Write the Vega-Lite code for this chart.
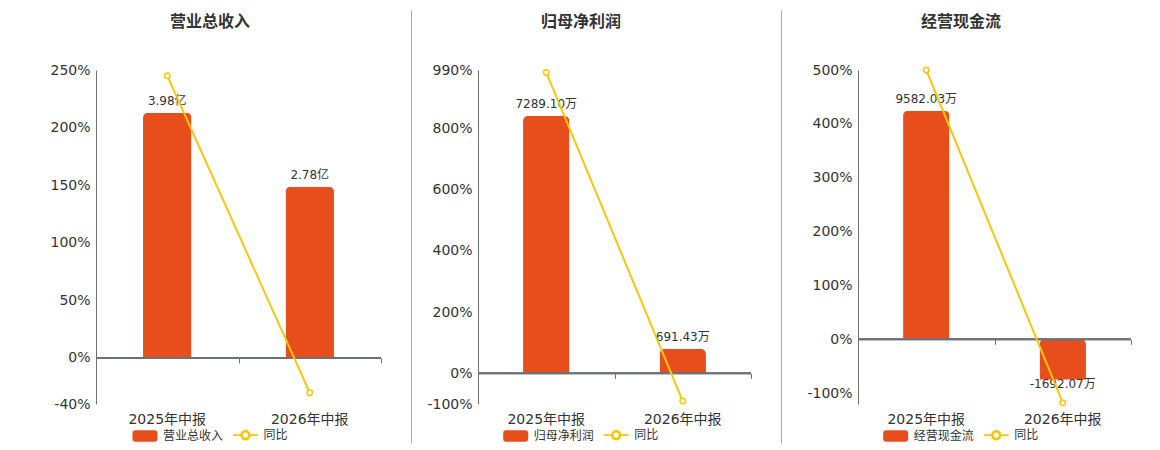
{
  "$schema": "https://vega.github.io/schema/vega-lite/v6.json",
  "description": "营业总收入 / 归母净利润 / 经营现金流 与同比",
  "autosize": {"type": "pad"},
  "padding": {"left": 49, "top": 14, "right": 0, "bottom": 10},
  "background": "white",
  "datasets": {
    "revenue": [
      {"period": "2025年中报", "value": 3.98, "label": "3.98亿", "yoy": 245.07, "series": "营业总收入"},
      {"period": "2026年中报", "value": 2.78, "label": "2.78亿", "yoy": -30.15, "series": "营业总收入"}
    ],
    "profit": [
      {"period": "2025年中报", "value": 7289.10, "label": "7289.10万", "yoy": 982, "series": "归母净利润"},
      {"period": "2026年中报", "value": 691.43, "label": "691.43万", "yoy": -90.51, "series": "归母净利润"}
    ],
    "cashflow": [
      {"period": "2025年中报", "value": 9582.03, "label": "9582.03万", "yoy": 500, "series": "经营现金流"},
      {"period": "2026年中报", "value": -1692.07, "label": "-1692.07万", "yoy": -117.66, "series": "经营现金流"}
    ]
  },
  "spacing": 15,
  "resolve": {
    "scale": {"color": "independent", "x": "independent", "y": "independent"},
    "legend": {"color": "independent"}
  },
  "hconcat": [
    {
      "width": 285,
      "height": 334,
      "title": {"text": "营业总收入", "anchor": "middle", "frame": "group", "dx": -28.5, "offset": 25, "baseline": "middle"},
      "data": {"name": "revenue"},
      "layer": [
        {
          "layer": [
            {
              "mark": {"type": "bar", "width": {"band": 0.34}, "cornerRadiusEnd": 5},
              "encoding": {
                "x": {"field": "period", "type": "nominal", "sort": null, "scale": {"paddingInner": 0, "paddingOuter": 0},
                      "axis": {"title": null, "labelAngle": 0, "domain": false, "ticks": false, "grid": false, "labelPadding": 8}},
                "y": {"field": "value", "type": "quantitative", "scale": {"domain": [-0.748, 4.675], "nice": false, "zero": false}, "axis": null},
                "color": {"field": "series", "type": "nominal",
                          "scale": {"domain": ["营业总收入", "同比"], "range": ["#E84D1C", "#F2C80F"]},
                          "legend": {
                            "orient": "none", "legendX": 43, "legendY": 359,
                            "symbolSize": 625, "symbolStrokeWidth": 0,
                            "encode": {"symbols": {"update": {
                              "shape": {"signal": "datum.value === '同比' ? 'M-1,0L-0.36,0M0.36,0L1,0M-0.36,0A0.36,0.36 0 1,0 0.36,0A0.36,0.36 0 1,0 -0.36,0ZM-0.27,0A0.27,0.27 0 1,1 0.27,0A0.27,0.27 0 1,1 -0.27,0Z' : 'M-0.76,-0.46L0.76,-0.46Q1,-0.46 1,-0.22L1,0.22Q1,0.46 0.76,0.46L-0.76,0.46Q-1,0.46 -1,0.22L-1,-0.22Q-1,-0.46 -0.76,-0.46Z'"},
                              "size": {"value": 625},
                              "fill": {"signal": "datum.value === '同比' ? '#F2C80F' : '#E84D1C'"},
                              "stroke": {"signal": "datum.value === '同比' ? '#F2C80F' : '#E84D1C'"},
                              "strokeWidth": {"signal": "datum.value === '同比' ? 1.6 : 0"},
                              "opacity": {"value": 1}
                            }}}
                          }}
              }
            },
            {
              "transform": [{"filter": "datum.value >= 0"}],
              "mark": {"type": "text", "baseline": "bottom", "dy": -5},
              "encoding": {
                "x": {"field": "period", "type": "nominal", "sort": null},
                "y": {"field": "value", "type": "quantitative"},
                "text": {"field": "label"}
              }
            }
          ]
        },
        {
          "layer": [
            {
              "mark": {"type": "rule", "color": "#6E7079", "strokeWidth": 2},
              "encoding": {
                "y": {"datum": 0, "type": "quantitative", "scale": {"domain": [-40, 250], "nice": false, "zero": false},
                      "axis": {"orient": "left", "values": [-40, 0, 50, 100, 150, 200, 250], "labelExpr": "datum.value + '%'",
                               "minExtent": 46, "maxExtent": 46}}
              }
            },
            {
              "mark": {"type": "line", "color": "#F2C80F", "strokeWidth": 2},
              "encoding": {
                "x": {"field": "period", "type": "nominal", "sort": null, "scale": {"paddingInner": 0, "paddingOuter": 0}, "axis": null},
                "y": {"field": "yoy", "type": "quantitative"}
              }
            },
            {
              "mark": {"type": "point", "shape": "circle", "filled": true, "fill": "white", "stroke": "#F2C80F", "strokeWidth": 1.5, "size": 30, "opacity": 1},
              "encoding": {
                "x": {"field": "period", "type": "nominal", "sort": null, "axis": null},
                "y": {"field": "yoy", "type": "quantitative"}
              }
            }
          ]
        },
        {
          "mark": {"type": "rule", "opacity": 0},
          "encoding": {
            "x": {"field": "period", "type": "nominal", "sort": null, "scale": {"paddingInner": 0, "paddingOuter": 0},
                  "axis": {"orient": "bottom", "offset": -46.07, "labels": false, "domain": false, "ticks": true, "tickBand": "extent", "tickSize": 5, "tickColor": "#6E7079", "tickWidth": 1, "grid": false, "title": null}}
          }
        },
        {
          "mark": {"type": "rule", "opacity": 0},
          "encoding": {
            "y": {"datum": 0, "type": "quantitative", "scale": {"domain": [0, 1], "range": [373, -60]},
                  "axis": {"orient": "right", "offset": 30, "domainColor": "#AAAAAA", "labels": false, "ticks": false, "grid": false, "title": null, "minExtent": 0, "maxExtent": 0}}
          }
        }
      ],
      "resolve": {"scale": {"x": "independent", "y": "independent"}, "axis": {"x": "independent", "y": "independent"}}
    },
    {
      "width": 273,
      "height": 334,
      "title": {"text": "归母净利润", "anchor": "middle", "frame": "group", "dx": -33.5, "offset": 25, "baseline": "middle"},
      "data": {"name": "profit"},
      "layer": [
        {
          "layer": [
            {
              "mark": {"type": "bar", "width": {"band": 0.34}, "cornerRadiusEnd": 5},
              "encoding": {
                "x": {"field": "period", "type": "nominal", "sort": null, "scale": {"paddingInner": 0, "paddingOuter": 0},
                      "axis": {"title": null, "labelAngle": 0, "domain": false, "ticks": false, "grid": false, "labelPadding": 8}},
                "y": {"field": "value", "type": "quantitative", "scale": {"domain": [-868, 8594], "nice": false, "zero": false}, "axis": null},
                "color": {"field": "series", "type": "nominal",
                          "scale": {"domain": ["归母净利润", "同比"], "range": ["#E84D1C", "#F2C80F"]},
                          "legend": {
                            "orient": "none", "legendX": 31.7, "legendY": 359,
                            "symbolSize": 625, "symbolStrokeWidth": 0,
                            "encode": {"symbols": {"update": {
                              "shape": {"signal": "datum.value === '同比' ? 'M-1,0L-0.36,0M0.36,0L1,0M-0.36,0A0.36,0.36 0 1,0 0.36,0A0.36,0.36 0 1,0 -0.36,0ZM-0.27,0A0.27,0.27 0 1,1 0.27,0A0.27,0.27 0 1,1 -0.27,0Z' : 'M-0.76,-0.46L0.76,-0.46Q1,-0.46 1,-0.22L1,0.22Q1,0.46 0.76,0.46L-0.76,0.46Q-1,0.46 -1,0.22L-1,-0.22Q-1,-0.46 -0.76,-0.46Z'"},
                              "size": {"value": 625},
                              "fill": {"signal": "datum.value === '同比' ? '#F2C80F' : '#E84D1C'"},
                              "stroke": {"signal": "datum.value === '同比' ? '#F2C80F' : '#E84D1C'"},
                              "strokeWidth": {"signal": "datum.value === '同比' ? 1.6 : 0"},
                              "opacity": {"value": 1}
                            }}}
                          }}
              }
            },
            {
              "transform": [{"filter": "datum.value >= 0"}],
              "mark": {"type": "text", "baseline": "bottom", "dy": -5},
              "encoding": {
                "x": {"field": "period", "type": "nominal", "sort": null},
                "y": {"field": "value", "type": "quantitative"},
                "text": {"field": "label"}
              }
            }
          ]
        },
        {
          "layer": [
            {
              "mark": {"type": "rule", "color": "#6E7079", "strokeWidth": 2},
              "encoding": {
                "y": {"datum": 0, "type": "quantitative", "scale": {"domain": [-100, 990], "nice": false, "zero": false},
                      "axis": {"orient": "left", "values": [-100, 0, 200, 400, 600, 800, 990], "labelExpr": "datum.value + '%'",
                               "minExtent": 52, "maxExtent": 52}}
              }
            },
            {
              "mark": {"type": "line", "color": "#F2C80F", "strokeWidth": 2},
              "encoding": {
                "x": {"field": "period", "type": "nominal", "sort": null, "scale": {"paddingInner": 0, "paddingOuter": 0}, "axis": null},
                "y": {"field": "yoy", "type": "quantitative"}
              }
            },
            {
              "mark": {"type": "point", "shape": "circle", "filled": true, "fill": "white", "stroke": "#F2C80F", "strokeWidth": 1.5, "size": 30, "opacity": 1},
              "encoding": {
                "x": {"field": "period", "type": "nominal", "sort": null, "axis": null},
                "y": {"field": "yoy", "type": "quantitative"}
              }
            }
          ]
        },
        {
          "mark": {"type": "rule", "opacity": 0},
          "encoding": {
            "x": {"field": "period", "type": "nominal", "sort": null, "scale": {"paddingInner": 0, "paddingOuter": 0},
                  "axis": {"orient": "bottom", "offset": -30.65, "labels": false, "domain": false, "ticks": true, "tickBand": "extent", "tickSize": 5, "tickColor": "#6E7079", "tickWidth": 1, "grid": false, "title": null}}
          }
        },
        {
          "mark": {"type": "rule", "opacity": 0},
          "encoding": {
            "y": {"datum": 0, "type": "quantitative", "scale": {"domain": [0, 1], "range": [373, -60]},
                  "axis": {"orient": "right", "offset": 30, "domainColor": "#AAAAAA", "labels": false, "ticks": false, "grid": false, "title": null, "minExtent": 0, "maxExtent": 0}}
          }
        }
      ],
      "resolve": {"scale": {"x": "independent", "y": "independent"}, "axis": {"x": "independent", "y": "independent"}}
    },
    {
      "width": 273,
      "height": 334,
      "title": {"text": "经营现金流", "anchor": "middle", "frame": "group", "dx": -33.5, "offset": 25, "baseline": "middle"},
      "data": {"name": "cashflow"},
      "layer": [
        {
          "layer": [
            {
              "mark": {"type": "bar", "width": {"band": 0.34}, "cornerRadiusEnd": 5},
              "encoding": {
                "x": {"field": "period", "type": "nominal", "sort": null, "scale": {"paddingInner": 0, "paddingOuter": 0},
                      "axis": {"title": null, "labelAngle": 0, "domain": false, "ticks": false, "grid": false, "labelPadding": 8}},
                "y": {"field": "value", "type": "quantitative", "scale": {"domain": [-2709, 11289], "nice": false, "zero": false}, "axis": null},
                "color": {"field": "series", "type": "nominal",
                          "scale": {"domain": ["经营现金流", "同比"], "range": ["#E84D1C", "#F2C80F"]},
                          "legend": {
                            "orient": "none", "legendX": 31.7, "legendY": 359,
                            "symbolSize": 625, "symbolStrokeWidth": 0,
                            "encode": {"symbols": {"update": {
                              "shape": {"signal": "datum.value === '同比' ? 'M-1,0L-0.36,0M0.36,0L1,0M-0.36,0A0.36,0.36 0 1,0 0.36,0A0.36,0.36 0 1,0 -0.36,0ZM-0.27,0A0.27,0.27 0 1,1 0.27,0A0.27,0.27 0 1,1 -0.27,0Z' : 'M-0.76,-0.46L0.76,-0.46Q1,-0.46 1,-0.22L1,0.22Q1,0.46 0.76,0.46L-0.76,0.46Q-1,0.46 -1,0.22L-1,-0.22Q-1,-0.46 -0.76,-0.46Z'"},
                              "size": {"value": 625},
                              "fill": {"signal": "datum.value === '同比' ? '#F2C80F' : '#E84D1C'"},
                              "stroke": {"signal": "datum.value === '同比' ? '#F2C80F' : '#E84D1C'"},
                              "strokeWidth": {"signal": "datum.value === '同比' ? 1.6 : 0"},
                              "opacity": {"value": 1}
                            }}}
                          }}
              }
            },
            {
              "transform": [{"filter": "datum.value >= 0"}],
              "mark": {"type": "text", "baseline": "bottom", "dy": -5},
              "encoding": {
                "x": {"field": "period", "type": "nominal", "sort": null},
                "y": {"field": "value", "type": "quantitative"},
                "text": {"field": "label"}
              }
            },
            {
              "transform": [{"filter": "datum.value < 0"}],
              "mark": {"type": "text", "baseline": "middle", "dy": 4},
              "encoding": {
                "x": {"field": "period", "type": "nominal", "sort": null},
                "y": {"field": "value", "type": "quantitative"},
                "text": {"field": "label"}
              }
            }
          ]
        },
        {
          "layer": [
            {
              "mark": {"type": "rule", "color": "#6E7079", "strokeWidth": 2},
              "encoding": {
                "y": {"datum": 0, "type": "quantitative", "scale": {"domain": [-120, 500], "nice": false, "zero": false},
                      "axis": {"orient": "left", "values": [-120, -100, 0, 100, 200, 300, 400, 500], "labelExpr": "datum.value < -110 ? '' : datum.value + '%'",
                               "minExtent": 62, "maxExtent": 62}}
              }
            },
            {
              "mark": {"type": "line", "color": "#F2C80F", "strokeWidth": 2},
              "encoding": {
                "x": {"field": "period", "type": "nominal", "sort": null, "scale": {"paddingInner": 0, "paddingOuter": 0}, "axis": null},
                "y": {"field": "yoy", "type": "quantitative"}
              }
            },
            {
              "mark": {"type": "point", "shape": "circle", "filled": true, "fill": "white", "stroke": "#F2C80F", "strokeWidth": 1.5, "size": 30, "opacity": 1},
              "encoding": {
                "x": {"field": "period", "type": "nominal", "sort": null, "axis": null},
                "y": {"field": "yoy", "type": "quantitative"}
              }
            }
          ]
        },
        {
          "mark": {"type": "rule", "opacity": 0},
          "encoding": {
            "x": {"field": "period", "type": "nominal", "sort": null, "scale": {"paddingInner": 0, "paddingOuter": 0},
                  "axis": {"orient": "bottom", "offset": -64.65, "labels": false, "domain": false, "ticks": true, "tickBand": "extent", "tickSize": 5, "tickColor": "#6E7079", "tickWidth": 1, "grid": false, "title": null}}
          }
        },
        {
          "mark": {"type": "rule", "opacity": 0},
          "encoding": {
            "y": {"datum": 0, "type": "quantitative", "scale": {"domain": [0, 1], "range": [373, -60]},
                  "axis": {"orient": "right", "offset": 30, "domainOpacity": 0, "labels": false, "ticks": false, "grid": false, "title": null, "minExtent": 0, "maxExtent": 0}}
          }
        }
      ],
      "resolve": {"scale": {"x": "independent", "y": "independent"}, "axis": {"x": "independent", "y": "independent"}}
    }
  ],
  "config": {
    "view": {"stroke": null},
    "font": "DejaVu Sans, Noto Sans CJK SC",
    "title": {"font": "Noto Sans CJK SC", "fontSize": 16, "fontWeight": "bold", "color": "#333333"},
    "text": {"font": "DejaVu Sans, Noto Sans CJK SC", "fontSize": 12, "color": "#333333"},
    "axis": {
      "labelFont": "DejaVu Sans, Noto Sans CJK SC",
      "labelFontSize": 14,
      "labelColor": "#333333",
      "title": null,
      "grid": true,
      "gridColor": "#E0E6F1",
      "gridWidth": 1,
      "domainColor": "#6E7079",
      "domainWidth": 1,
      "ticks": false,
      "tickSize": 0,
      "labelPadding": 6
    },
    "legend": {
      "title": null,
      "direction": "horizontal",
      "labelFont": "Noto Sans CJK SC",
      "labelFontSize": 12,
      "labelColor": "#333333",
      "symbolSize": 625,
      "labelOffset": 12,
      "columnPadding": 5.5,
      "symbolOpacity": 1
    }
  }
}
